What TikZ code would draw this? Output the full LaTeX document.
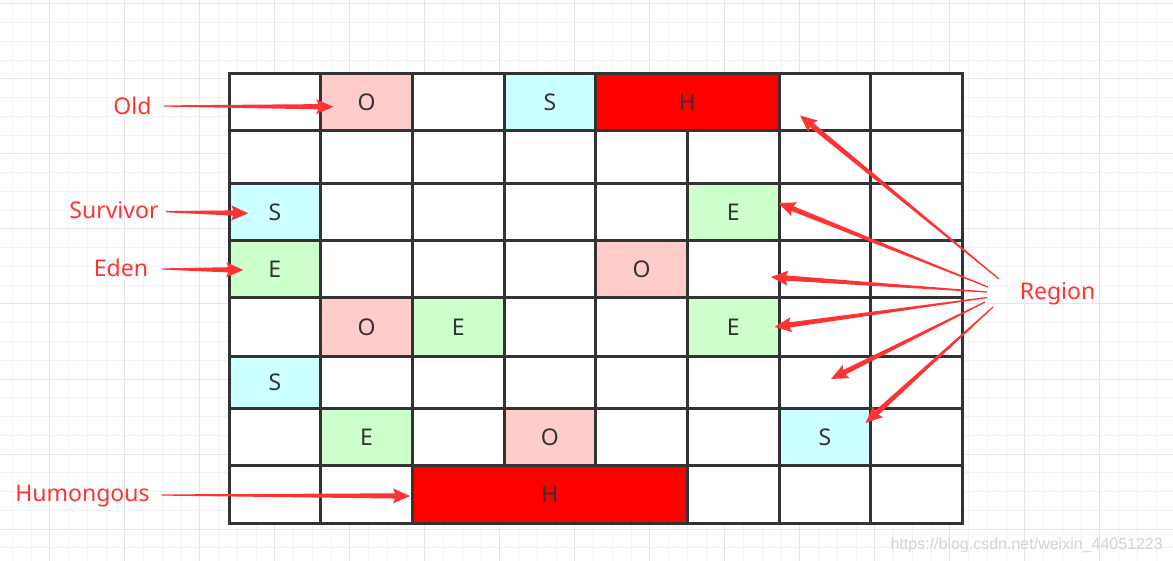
\documentclass[tikz,border=0pt]{standalone}
\usepackage{fontspec}
\setmainfont{Noto Sans}
\newfontfamily\wmfont{Liberation Sans}
\usetikzlibrary{calc}
\definecolor{arrowred}{HTML}{FF3333}
\definecolor{gridline}{HTML}{333333}
\definecolor{oldc}{HTML}{FFCCCC}
\definecolor{survc}{HTML}{CCFFFF}
\definecolor{edenc}{HTML}{CCFFCC}
\definecolor{humc}{HTML}{FF0000}
\definecolor{bgminor}{HTML}{F3F3F3}
\definecolor{bgmajor}{HTML}{E6E6E6}
\definecolor{wmc}{HTML}{D4D4D4}
\newcommand\gcell[6]{% name, col, row, colspan, fill, text
  \pgfmathsetmacro\xa{229+91.7*#2}%
  \pgfmathsetmacro\xb{229+91.7*(#2+#4)}%
  \pgfmathsetmacro\ya{{73.3,130.7,183.5,241,298,356.5,408.3,465.7,523.3}[#3]}%
  \pgfmathsetmacro\yb{{73.3,130.7,183.5,241,298,356.5,408.3,465.7,523.3}[#3+1]}%
  \pgfmathsetmacro\cw{\xb-\xa}%
  \pgfmathsetmacro\ch{\yb-\ya}%
  \node[cellbox, fill=#5, minimum width=\cw pt, minimum height=\ch pt] (#1)
    at ({(\xa+\xb)/2},{(\ya+\yb)/2}) {#6};%
}
\newcommand\taparrow[2]{% tail, tip
  \coordinate (ta-b) at ($(#2)!15pt!(#1)$);
  \coordinate (ta-c) at ($(#2)!17pt!(#1)$);
  \fill[arrowred] ($(#1)!0.6pt!90:(#2)$) -- ($(ta-b)!2.6pt!90:(#2)$) -- ($(ta-c)!7.5pt!90:(#2)$) -- (#2)
    -- ($(ta-c)!7.5pt!-90:(#2)$) -- ($(ta-b)!2.6pt!-90:(#2)$) -- ($(#1)!0.6pt!-90:(#2)$) -- cycle;
}
\begin{document}
\begin{tikzpicture}[x=1pt,y=-1pt,
  cellbox/.style={draw=gridline, line width=3pt, inner sep=0pt, outer sep=0pt, text=gridline,
    font=\fontsize{23}{27}\selectfont},
  lbl/.style={text=arrowred, font=\fontsize{23}{27}\selectfont, inner sep=0pt, anchor=base},
  bgmin/.style={draw=bgminor, line width=1pt},
  bgmaj/.style={draw=bgmajor, line width=1pt}]
\useasboundingbox (0,0) rectangle (1173,561);
\fill[white] (0,0) rectangle (1173,561);
% background grid
\foreach \k in {0,...,61} \draw[bgmin] ({12.3+18.75*\k},0) -- ++(0,561);
\foreach \k in {0,...,29} \draw[bgmin] (0,{4+18.75*\k}) -- ++(1173,0);
\foreach \k in {0,...,14} \draw[bgmaj] ({49.8+75*\k},0) -- ++(0,561);
\foreach \k in {0,...,7} \draw[bgmaj] (0,{4+75*\k}) -- ++(1173,0);
% row 0
\foreach \c in {0,2,6,7} {\gcell{r0c\c}{\c}{0}{1}{white}{}}
\gcell{r0c1}{1}{0}{1}{oldc}{O}
\gcell{r0c3}{3}{0}{1}{survc}{S}
\gcell{r0c4}{4}{0}{2}{humc}{H}
% row 1
\foreach \c in {0,...,7} {\gcell{r1c\c}{\c}{1}{1}{white}{}}
% row 2
\foreach \c in {1,2,3,4,6,7} {\gcell{r2c\c}{\c}{2}{1}{white}{}}
\gcell{r2c0}{0}{2}{1}{survc}{S}
\gcell{r2c5}{5}{2}{1}{edenc}{E}
% row 3
\foreach \c in {1,2,3,5,6,7} {\gcell{r3c\c}{\c}{3}{1}{white}{}}
\gcell{r3c0}{0}{3}{1}{edenc}{E}
\gcell{r3c4}{4}{3}{1}{oldc}{O}
% row 4
\foreach \c in {0,3,4,6,7} {\gcell{r4c\c}{\c}{4}{1}{white}{}}
\gcell{r4c1}{1}{4}{1}{oldc}{O}
\gcell{r4c2}{2}{4}{1}{edenc}{E}
\gcell{r4c5}{5}{4}{1}{edenc}{E}
% row 5
\foreach \c in {1,...,7} {\gcell{r5c\c}{\c}{5}{1}{white}{}}
\gcell{r5c0}{0}{5}{1}{survc}{S}
% row 6
\foreach \c in {0,2,4,5,7} {\gcell{r6c\c}{\c}{6}{1}{white}{}}
\gcell{r6c1}{1}{6}{1}{edenc}{E}
\gcell{r6c3}{3}{6}{1}{oldc}{O}
\gcell{r6c6}{6}{6}{1}{survc}{S}
% row 7
\foreach \c in {0,1,5,6,7} {\gcell{r7c\c}{\c}{7}{1}{white}{}}
\gcell{r7c2}{2}{7}{3}{humc}{H}
% labels
\node[lbl] (old) at (132.5,115) {Old};
\node[lbl] (surv) at (114,218.3) {Survivor};
\node[lbl] (eden) at (121,276.7) {Eden};
\node[lbl] (hum) at (82.5,501) {Humongous};
\node[lbl] (region) at (1057.5,299.3) {Region};
% arrow endpoints
\coordinate (oldT) at (164,106);    \coordinate (oldH) at (333.3,106.8);
\coordinate (survT) at (166,211.7); \coordinate (survH) at (248.3,213.3);
\coordinate (edenT) at (162.3,269); \coordinate (edenH) at (243.3,270);
\coordinate (humT) at (161.6,495);  \coordinate (humH) at (410,496);
\coordinate (rT1) at (999,279);   \coordinate (rH1) at (800,115.5);
\coordinate (rT2) at (988,287);   \coordinate (rH2) at (778.5,203);
\coordinate (rT3) at (987,292);   \coordinate (rH3) at (771,277);
\coordinate (rT4) at (987,297.5); \coordinate (rH4) at (774.5,327);
\coordinate (rT5) at (985,302);   \coordinate (rH5) at (831,379);
\coordinate (rT6) at (993,307);   \coordinate (rH6) at (865.5,423);
\taparrow{oldT}{oldH}
\taparrow{survT}{survH}
\taparrow{edenT}{edenH}
\taparrow{humT}{humH}
\taparrow{rT1}{rH1}
\taparrow{rT2}{rH2}
\taparrow{rT3}{rH3}
\taparrow{rT4}{rH4}
\taparrow{rT5}{rH5}
\taparrow{rT6}{rH6}
% watermark
\node[text=wmc, font=\wmfont\fontsize{16}{18}\selectfont, inner sep=0pt, anchor=base east] (wm) at (1163,549) {https://blog.csdn.net/weixin\_44051223};
\end{tikzpicture}
\end{document}
